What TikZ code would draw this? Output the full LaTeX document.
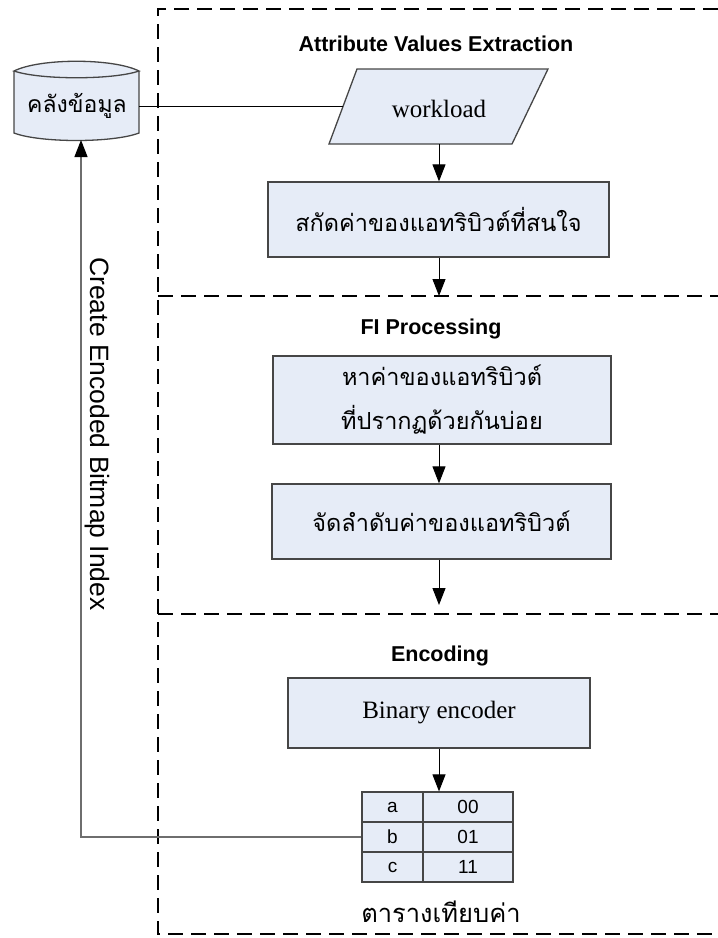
\documentclass[tikz,border=0pt]{standalone}
\usepackage{fontspec}
\setmainfont{Liberation Serif}
\newfontfamily\thaifont[Script=Thai]{Loma}
\newfontfamily\arialfont{Liberation Sans}
\usetikzlibrary{arrows.meta,calc}
\definecolor{boxfill}{RGB}{230,236,247}
\definecolor{boxline}{RGB}{70,70,70}
\definecolor{retline}{RGB}{110,110,110}
\tikzset{
  procbox/.style={draw=boxline, line width=1.3pt, fill=boxfill, inner sep=0pt},
  cellbox/.style={draw=boxline, line width=1.2pt, fill=boxfill, inner sep=0pt,
    minimum height=30pt, font=\arialfont\fontsize{19}{21}\selectfont},
  flow/.style={line width=1pt, -{Triangle[length=17pt,width=13pt]}},
  retflow/.style={draw=retline, line width=1.3pt, -{Triangle[length=17pt,width=13pt,color=black]}},
  zone/.style={line width=2.5pt, dash pattern=on 15pt off 8pt},
  zonetitle/.style={font=\arialfont\bfseries\fontsize{21.5}{24}\selectfont},
  thaitext/.style={font=\thaifont\fontsize{23.5}{44}\selectfont, align=center},
  seriftext/.style={font=\fontsize{25}{28}\selectfont},
}
\begin{document}
\begin{tikzpicture}[x=1pt,y=-1pt]
\useasboundingbox (0,0) rectangle (718,938);
% zones
\draw[zone] (718,9) -- (158,9) -- (158,934) -- (718,934);
\draw[zone] (158,296) -- (718,296);
\draw[zone] (158,614) -- (718,614);
\coordinate (div1) at (439,296);
\coordinate (div2) at (439,605);
% titles
\node[zonetitle] (t1) at (436,44) {Attribute Values Extraction};
\node[zonetitle] (t2) at (431,329) {FI Processing};
\node[zonetitle] (t3) at (440,656) {Encoding};
% database cylinder
\node[minimum width=125pt, minimum height=77pt, inner sep=0pt] (db) at (76.5,101.5) {};
\fill[boxfill] (14,71) .. controls (40,58) and (113,58) .. (139,71) -- (139,133)
  .. controls (113,143) and (40,143) .. (14,133) -- cycle;
\draw[boxline, line width=1.3pt] (14,71) .. controls (40,58) and (113,58) .. (139,71)
  .. controls (113,80) and (40,80) .. (14,71) -- cycle;
\draw[boxline, line width=1.3pt] (14,71) -- (14,133) .. controls (40,143) and (113,143) .. (139,133) -- (139,71);
\node[thaitext, font=\thaifont\fontsize{23}{30}\selectfont] (dbt) at (77,106) {คลังข้อมูล};
% workload
\draw[procbox] (357,69) -- (548,69) -- (512,144) -- (329,144) -- cycle;
\node[seriftext] (wl) at (439,109) {workload};
\coordinate (wlL) at (343,106);
\coordinate (wlB) at (439,144);
% boxes
\node[procbox, minimum width=341pt, minimum height=75pt, thaitext] (b1) at (438.5,219.5) {สกัดค่าของแอทริบิวต์ที่สนใจ};
\node[procbox, minimum width=338pt, minimum height=88pt, thaitext] (b2) at (442,400) {หาค่าของแอทริบิวต์\\ที่ปรากฏด้วยกันบ่อย};
\node[procbox, minimum width=339pt, minimum height=75pt, thaitext] (b3) at (441.5,521.5) {จัดลำดับค่าของแอทริบิวต์};
\node[procbox, minimum width=302pt, minimum height=70pt, seriftext] (b4) at (439,713) {Binary encoder};
% table
\node[cellbox, minimum width=61pt] (ta) at (392.5,807) {a};
\node[cellbox, minimum width=90pt] (tav) at (468,807) {00};
\node[cellbox, minimum width=61pt] (tb) at (392.5,837) {b};
\node[cellbox, minimum width=90pt] (tbv) at (468,837) {01};
\node[cellbox, minimum width=61pt] (tc) at (392.5,867) {c};
\node[cellbox, minimum width=90pt] (tcv) at (468,867) {11};
\node[thaitext, font=\thaifont\fontsize{25.5}{30}\selectfont] (tlab) at (441,912) {ตารางเทียบค่า};
% connectors
\draw[line width=1pt] (db.east |- wlL) -- (wlL);
\draw[flow] (wlB) -- (wlB |- b1.north);
\draw[flow] (b1.south -| div1) -- (div1);
\draw[flow] (b2.south -| div1) -- (div1 |- b3.north);
\draw[flow] (b3.south -| div2) -- (div2);
\draw[flow] (b4.south -| div1) -- (div1 |- tav.north);
\coordinate (dbin) at (81,140);
\draw[retflow] (tb.west) -| (dbin);
\node[font=\arialfont\fontsize{26.5}{30}\selectfont, rotate=-90] (cebi) at (97,434) {Create Encoded Bitmap Index};
\end{tikzpicture}
\end{document}
